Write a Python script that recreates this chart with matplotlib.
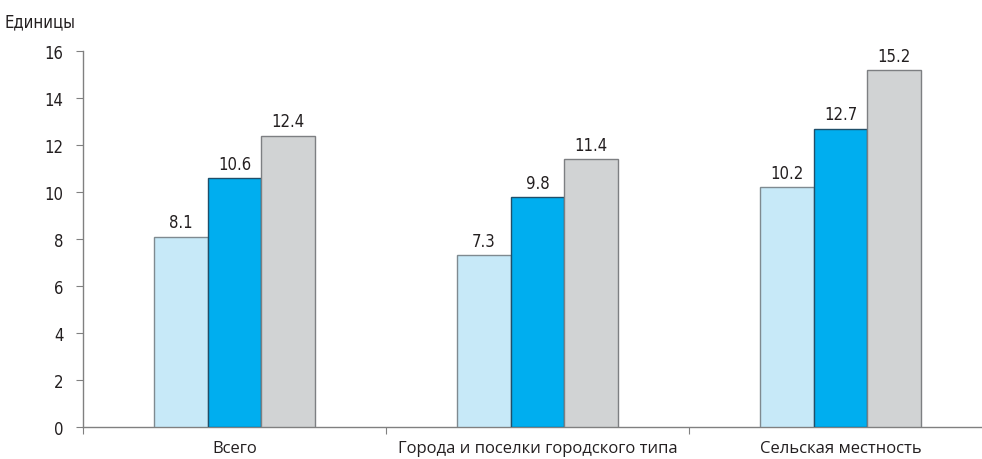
import matplotlib
matplotlib.use("Agg")
import matplotlib.pyplot as plt
import numpy as np

categories = ["Всего", "Города и поселки городского типа", "Сельская местность"]
series_a = [8.1, 7.3, 10.2]
series_b = [10.6, 9.8, 12.7]
series_c = [12.4, 11.4, 15.2]
yticks = [0, 2, 4, 6, 8, 10, 12, 14, 16]

num_kw = dict(family="DejaVu Sans", stretch="condensed")
lab_font = "Open Sans"

fig = plt.figure(figsize=(9.82, 4.6), dpi=100)
ax = fig.add_axes([83/982, 32/460, (992 - 83)/982, (428-52)/460])

x = np.arange(len(categories))
w = 0.177
colors = ["#C7E9F8", "#00AEEF", "#D1D3D4"]
edges = ["#7f8a90", "#1f4f6a", "#7d7f82"]
for i, (vals, c, e) in enumerate(zip([series_a, series_b, series_c], colors, edges)):
    bars = ax.bar(x + (i - 1) * w, vals, w, color=c, edgecolor=e, linewidth=1.0, zorder=3)
    for b, v in zip(bars, vals):
        ax.text(b.get_x() + b.get_width()/2, v + 0.22, f"{v:.1f}", ha="center", va="bottom",
                fontsize=12, color="#231f20", **num_kw)

ax.set_ylim(0, 16)
ax.set_yticks(yticks)
ax.set_yticklabels([str(t) for t in yticks], fontsize=12, color="#231f20", **num_kw)
ax.set_xlim(-0.5, 2.5)
ax.set_xticks([-0.5, 0.5, 1.5, 2.5])
ax.set_xticklabels([])
ax.tick_params(axis="x", length=5, color="#808080", direction="out")
ax.tick_params(axis="y", length=5, color="#808080", direction="out", pad=9)
for i, c in enumerate(categories):
    ax.text(i, -0.55, c, ha="center", va="top", fontsize=12, family=lab_font, color="#231f20",
            transform=ax.transData)
for s in ["top", "right"]:
    ax.spines[s].set_visible(False)
for s in ["left", "bottom"]:
    ax.spines[s].set_color("#808080")
    ax.spines[s].set_linewidth(1.0)

fig.text(5/982, 1 - 22/460, "Единицы", ha="left", va="center", fontsize=12, color="#231f20", **num_kw)

fig.savefig("out.png", dpi=100)
